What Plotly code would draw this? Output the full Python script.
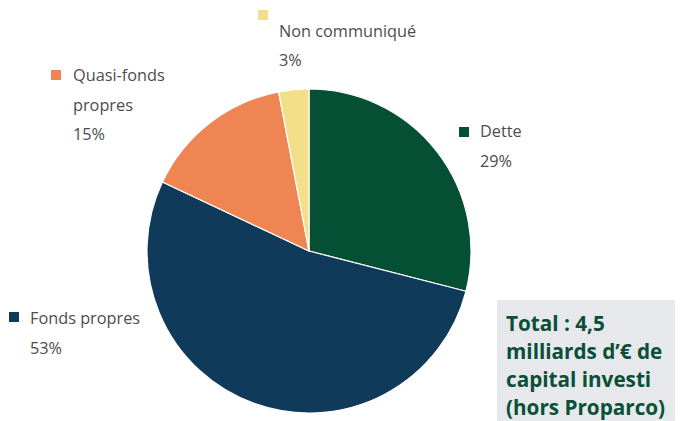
import plotly.graph_objects as go

categories = ["Dette", "Fonds propres", "Quasi-fonds propres", "Non communiqué"]
values = [29, 53, 15, 3]
label_lines = [["Dette"], ["Fonds propres"], ["Quasi-fonds", "propres"], ["Non communiqué"]]
colors = ["#054f35", "#0f3a59", "#f08554", "#f3df8a"]
total_lines = ["Total : 4,5", "milliards d’€ de", "capital investi", "(hors Proparco)"]

W, H = 683, 421
OFF = 8  # page body margin offset

def px(x):
    return (x - OFF) / W

def py(y):
    return 1 - (y - OFF) / H

cx, cy, r = 309, 251, 162

fig = go.Figure(go.Pie(
    labels=categories, values=values, sort=False, direction="clockwise", rotation=0,
    marker=dict(colors=colors, line=dict(color="white", width=1.2)),
    textinfo="none", hoverinfo="label+percent", showlegend=False,
    domain=dict(x=[px(cx - r), px(cx + r)], y=[py(cy + r), py(cy - r)]),
))

label_pos = {
    "Dette": (459, 127, 479, 131),
    "Fonds propres": (9, 312, 29, 318),
    "Quasi-fonds propres": (51, 70, 72, 75),
    "Non communiqué": (258, 10, 278, 31),
}
line_gap = 29.5
shapes = []
annotations = []
for cat, lines, col, v in zip(categories, label_lines, colors, values):
    sx, sy, tx, ty = label_pos[cat]
    shapes.append(dict(type="rect", xref="paper", yref="paper",
                       x0=px(sx), x1=px(sx + 10), y0=py(sy + 10), y1=py(sy),
                       fillcolor=col, line=dict(width=0)))
    all_lines = lines + [f"{v}%"]
    for i, t in enumerate(all_lines):
        annotations.append(dict(text=t, xref="paper", yref="paper", x=px(tx - 1), y=py(ty + i * line_gap),
                                xanchor="left", yanchor="middle", showarrow=False,
                                font=dict(family="Open Sans", size=16.3, color="#4d4d4d")))

shapes.append(dict(type="rect", xref="paper", yref="paper", x0=px(497), x1=1.05,
                   y0=-0.05, y1=py(300), fillcolor="#e6e8eb", line=dict(width=0), layer="below"))
for i, t in enumerate(total_lines):
    annotations.append(dict(text=f"<b>{t}</b>", xref="paper", yref="paper", x=px(505), y=py(323 + i * 28.0),
                            xanchor="left", yanchor="middle", showarrow=False, borderpad=0,
                            font=dict(family="Open Sans", size=20.7, color="#0a4f36")))

fig.update_layout(width=W, height=H, margin=dict(l=0, r=0, t=0, b=0),
                  paper_bgcolor="white", plot_bgcolor="white",
                  shapes=shapes, annotations=annotations)
fig.write_html("out.html")
